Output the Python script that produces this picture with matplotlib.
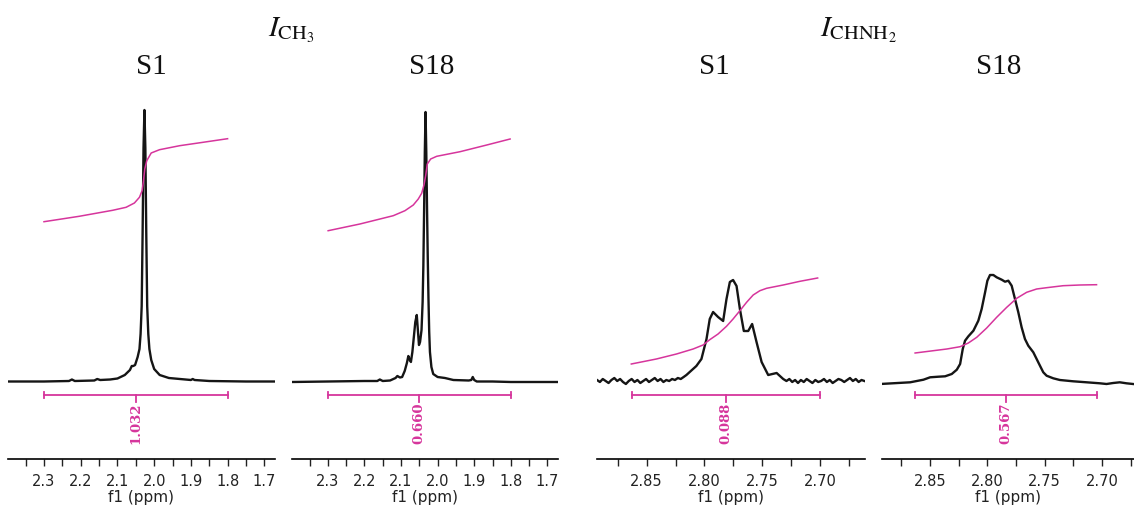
import matplotlib
matplotlib.use("Agg")
import matplotlib.pyplot as plt
from matplotlib.ticker import MultipleLocator, FormatStrFormatter

plt.rcParams['mathtext.fontset'] = 'stix'

MAG = '#d6359c'
INK = '#151515'

# ---------------- data ----------------
# Panel 1: CH3, S1
p1_ppm = [2.398, 2.300, 2.232, 2.224, 2.216, 2.163, 2.155, 2.147, 2.120, 2.100, 2.080, 2.066,
          2.061, 2.057, 2.052, 2.045, 2.040, 2.037, 2.034, 2.0315, 2.029, 2.0265, 2.024, 2.0215,
          2.019, 2.016, 2.013, 2.008, 2.000, 1.985, 1.960, 1.930, 1.900, 1.895, 1.890, 1.850,
          1.750, 1.671]
p1_int = [0.5, 0.5, 1, 2.5, 1, 1.5, 3, 2, 2.5, 3.5, 7, 12,
          16, 16, 17, 25, 33, 48, 76, 148, 234, 272, 234, 148,
          76, 48, 33, 22, 13, 7, 4, 3, 2, 3, 2, 1,
          0.5, 0.5]
p1_integ_ppm = [2.3000, 2.2042, 2.1131, 2.0765, 2.0538, 2.0401, 2.0328, 2.0292, 2.0256,
                2.0201, 2.0081, 1.9854, 1.9306, 1.8669, 1.8001]
p1_integ_val = [160.3, 165.7, 171.7, 174.7, 179, 184.7, 191.3, 201, 213,
                221.3, 229, 232.3, 236.3, 239.7, 243.3]

# Panel 2: CH3, S18
p2_ppm = [2.398, 2.300, 2.200, 2.165, 2.158, 2.150, 2.130, 2.115, 2.110, 2.103, 2.097, 2.090,
          2.084, 2.080, 2.076, 2.073, 2.069, 2.065, 2.061, 2.057, 2.054, 2.051, 2.048, 2.044,
          2.041, 2.039, 2.037, 2.035, 2.033, 2.031, 2.029, 2.027, 2.025, 2.023, 2.021, 2.017,
          2.012, 2.000, 1.980, 1.957, 1.915, 1.908, 1.904, 1.900, 1.893, 1.850, 1.800, 1.671]
p2_int = [0, 0.5, 1, 1, 2.5, 1, 1.5, 4, 6, 4.5, 5, 11,
          19, 26, 22, 20, 30, 45, 60, 67, 52, 37, 40, 52,
          80, 116, 170, 230, 270, 230, 175, 125, 83, 50, 30, 15,
          8, 5, 4, 2, 1.5, 2, 5, 2, 0.5, 0.5, 0, 0]
p2_integ_ppm = [2.2992, 2.2124, 2.1213, 2.0893, 2.0665, 2.0529, 2.0436, 2.0373, 2.0327,
                2.0282, 2.0190, 2.0025, 1.9387, 1.8657, 1.8019]
p2_integ_val = [151.3, 158, 166.3, 171.3, 177, 183, 188.7, 197, 206.3,
                218, 223, 225.7, 230.3, 237, 243]

# Panel 3: CHNH2, S1
p3_ppm = [2.8930, 2.8905, 2.8880, 2.8855, 2.8830, 2.8805, 2.8780, 2.8755, 2.8730, 2.8705,
          2.8680, 2.8655, 2.8630, 2.8605, 2.8580, 2.8555, 2.8530, 2.8505, 2.8480, 2.8455,
          2.8430, 2.8405, 2.8380, 2.8355, 2.8330, 2.8305, 2.8280, 2.8255, 2.8230, 2.8205,
          2.8180,
          2.8156, 2.8070, 2.8026, 2.7982, 2.7954, 2.7925, 2.7882, 2.7838, 2.7809, 2.7780,
          2.7752, 2.7722, 2.7693, 2.7659, 2.7621, 2.7587, 2.7549, 2.7505, 2.7448, 2.7375,
          2.7318,
          2.7290, 2.7265, 2.7240, 2.7215, 2.7190, 2.7165, 2.7140, 2.7115, 2.7090, 2.7065,
          2.7040, 2.7015, 2.6990, 2.6965, 2.6940, 2.6915, 2.6890, 2.6865, 2.6840, 2.6815,
          2.6790, 2.6765, 2.6740, 2.6715, 2.6690, 2.6665, 2.6640, 2.6615]
p3_int = [2, 0, 3, 1, -1, 2, 4, 1, 3, 0,
          -2, 1, 3, 0, 2, -1, 1, 3, 0, 2,
          4, 1, 3, 0, 2, 1, 3, 2, 4, 3,
          5,
          7, 16, 23, 43, 63, 70, 65, 61, 83, 100,
          102, 96, 73, 51, 51, 58, 40, 20, 7, 9,
          3,
          1, 3, 0, 2, -1, 2, 0, 3, 1, -1,
          2, 0, 1, 3, 0, 2, -1, 1, 3, 2,
          0, 2, 4, 1, 3, 0, 2, 1]
p3_integ_ppm = [2.8633, 2.8416, 2.8242, 2.8098, 2.8012, 2.7954, 2.7882, 2.7809, 2.7752,
                2.7693, 2.7635, 2.7578, 2.7520, 2.7462, 2.7318, 2.7173, 2.7020]
p3_integ_val = [18, 23, 28, 33, 37, 42.3, 48, 55.7, 63,
                71.3, 79.7, 87, 91.3, 93.7, 97, 100.7, 104]

# Panel 4: CHNH2, S18
p4_ppm = [2.8936, 2.8674, 2.8558, 2.8500, 2.8427, 2.8369, 2.8311, 2.8267, 2.8238, 2.8215,
          2.8195, 2.8166, 2.8122, 2.8079, 2.8050, 2.8020, 2.8000, 2.7977, 2.7948, 2.7919,
          2.7875, 2.7846, 2.7817, 2.7788, 2.7759, 2.7730, 2.7701, 2.7672, 2.7643, 2.7599,
          2.7570, 2.7541, 2.7512, 2.7483, 2.7425, 2.7367, 2.7251, 2.7134, 2.7018, 2.6960,
          2.6902, 2.6844, 2.6786, 2.6728]
p4_int = [-2, -0.3, 2.3, 4.7, 5.3, 5.7, 8, 12.3, 18, 33,
          41.3, 45.7, 51.3, 61.3, 73, 89.7, 101.3, 107, 107, 104.7,
          102.3, 100.3, 101.3, 96.3, 83, 69.7, 54.7, 43, 36.3, 29.7,
          23, 16.3, 9.7, 6.3, 3.7, 2, 0.7, -0.3, -1.3, -2,
          -1, -0.3, -1.3, -2]
p4_integ_ppm = [2.8631, 2.8354, 2.8238, 2.8166, 2.8093, 2.8006, 2.7919, 2.7831, 2.7744,
                2.7657, 2.7570, 2.7483, 2.7338, 2.7192, 2.7047]
p4_integ_val = [29, 33, 35.3, 39, 44.7, 54, 64.7, 74.7, 83.7,
                89.7, 93, 94.3, 96.3, 97, 97.3]

panels = [
    dict(ppm=p1_ppm, inten=p1_int, ip=p1_integ_ppm, iv=p1_integ_val,
         rng=(2.30, 1.80), label='1.032', xlim=(2.398, 1.671), px=(8, 267),
         major=0.1, minor=0.05, fmt='%.1f'),
    dict(ppm=p2_ppm, inten=p2_int, ip=p2_integ_ppm, iv=p2_integ_val,
         rng=(2.30, 1.80), label='0.660', xlim=(2.398, 1.671), px=(292, 266),
         major=0.1, minor=0.05, fmt='%.1f'),
    dict(ppm=p3_ppm, inten=p3_int, ip=p3_integ_ppm, iv=p3_integ_val,
         rng=(2.863, 2.70), label='0.088', xlim=(2.893, 2.661), px=(597, 268),
         major=0.05, minor=0.025, fmt='%.2f'),
    dict(ppm=p4_ppm, inten=p4_int, ip=p4_integ_ppm, iv=p4_integ_val,
         rng=(2.863, 2.704), label='0.567', xlim=(2.892, 2.672), px=(882, 252),
         major=0.05, minor=0.025, fmt='%.2f'),
]

W, H = 1134, 506
fig = plt.figure(figsize=(W / 100, H / 100), dpi=100)

for p in panels:
    l, w = p['px']
    ax = fig.add_axes([l / W, 46 / H, w / W, 360 / H])
    ax.plot(p['ppm'], p['inten'], color=INK, lw=1.7, solid_joinstyle='round')
    ax.plot(p['ip'], p['iv'], color=MAG, lw=1.1)
    a, b = p['rng']
    m = (a + b) / 2
    ax.plot([a, b], [-13, -13], color=MAG, lw=1.3)
    for e in (a, b):
        ax.plot([e, e], [-16, -10], color=MAG, lw=1.3)
    ax.plot([m, m], [-13, -20], color=MAG, lw=1.3)
    ax.text(m, -20, p['label'], rotation=90, ha='center', va='top', color=MAG,
            fontsize=9.5, fontweight='bold', family='DejaVu Serif')
    ax.set_xlim(*p['xlim'])
    ax.set_ylim(-77, 283)
    for s in ('top', 'left', 'right'):
        ax.spines[s].set_visible(False)
    ax.spines['bottom'].set_linewidth(1.2)
    ax.set_yticks([])
    ax.xaxis.set_major_locator(MultipleLocator(p['major']))
    ax.xaxis.set_minor_locator(MultipleLocator(p['minor']))
    ax.xaxis.set_major_formatter(FormatStrFormatter(p['fmt']))
    ax.tick_params(axis='x', which='both', direction='out', length=5, width=1,
                   labelsize=10.5, pad=5, colors='#222222')
    ax.set_xlabel('f1 (ppm)', fontsize=11, labelpad=1, color='#222222')
    ax.patch.set_alpha(0)

title_font = 'Liberation Serif'
for x, t in [(151, 'S1'), (432, 'S18'), (714, 'S1'), (999, 'S18')]:
    fig.text(x / W, 1 - 67 / H, t, ha='center', va='center', fontsize=21,
             family=title_font, color='#111111')
fig.text(291 / W, 1 - 30 / H, r'$I_{\mathrm{CH_3}}$', ha='center', va='center',
         fontsize=21, color='#111111')
fig.text(858 / W, 1 - 30 / H, r'$I_{\mathrm{CHNH_2}}$', ha='center', va='center',
         fontsize=21, color='#111111')

fig.savefig('out.png', dpi=100)
